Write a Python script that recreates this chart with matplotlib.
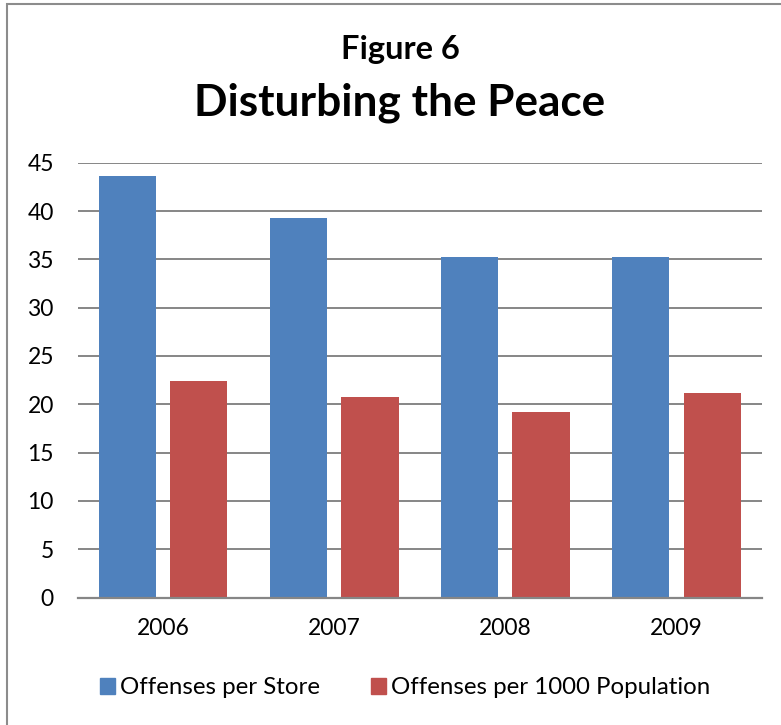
import matplotlib
matplotlib.use("Agg")
import matplotlib.pyplot as plt
from matplotlib.patches import Rectangle, Patch
import numpy as np

years = ["2006", "2007", "2008", "2009"]
per_store = [43.6, 39.3, 35.2, 35.2]
per_1000 = [22.4, 20.8, 19.2, 21.2]
series_names = ["Offenses per Store", "Offenses per 1000 Population"]
yticks = [0, 5, 10, 15, 20, 25, 30, 35, 40, 45]

BLUE = "#4F81BD"
RED = "#C0504D"
GRID = "#868686"

plt.rcParams['font.family'] = ['Lato', 'DejaVu Sans']

W, H = 781, 725
fig = plt.figure(figsize=(W / 100, H / 100), dpi=100)

# outer chart border (left/top visible)
fig.patches.append(Rectangle((6.5 / W, -0.1), 1.2, (H - 4.5) / H + 0.1,
                             transform=fig.transFigure, fill=False,
                             edgecolor="#8c8c8c", linewidth=1.5))

ax = fig.add_axes([77.5 / W, (H - 597.5) / H, (762 - 77.5) / W, (597.5 - 162.7) / H])
x = np.arange(len(years))
off = 0.209
bw = 0.335
ax.bar(x - off, per_store, bw, color=BLUE, zorder=3, label=series_names[0])
ax.bar(x + off, per_1000, bw, color=RED, zorder=3, label=series_names[1])

ax.set_xlim(-0.5, len(years) - 0.5)
ax.set_ylim(0, 45)
ax.set_yticks(yticks)
ax.set_xticks(x)
ax.set_xticklabels(years)
ax.yaxis.grid(True, color=GRID, linewidth=1.4, zorder=0)
ax.set_axisbelow(True)
for s in ["left", "right", "top"]:
    ax.spines[s].set_visible(False)
ax.spines["bottom"].set_color(GRID)
ax.spines["bottom"].set_linewidth(1.6)
ax.spines["bottom"].set_zorder(4)
ax.tick_params(axis="both", length=0, labelsize=16.5, colors="black")
ax.tick_params(axis="y", pad=17)
ax.tick_params(axis="x", pad=15)

fig.text(400 / W, 1 - 50 / H, "Figure 6", ha="center", va="center",
         fontsize=23.5, fontweight="bold")
fig.text(400 / W, 1 - 103 / H, "Disturbing the Peace", ha="center", va="center",
         fontsize=31.8, fontweight="bold")

handles = [Patch(color=BLUE), Patch(color=RED)]
fig.legend(handles, series_names, loc="center", bbox_to_anchor=(405 / W, 1 - 688 / H),
           ncol=2, frameon=False, fontsize=17.3, handlelength=0.64, handleheight=0.64,
           handletextpad=0.2, columnspacing=2.1, borderpad=0, borderaxespad=0)

fig.savefig("out.png", dpi=100)
